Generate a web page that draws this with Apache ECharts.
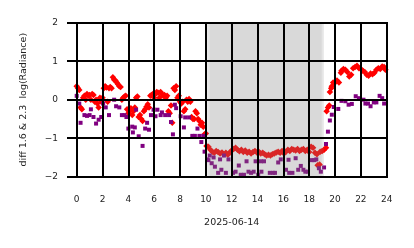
<!DOCTYPE html>
<html>
<head>
<meta charset="utf-8">
<script src="https://cdn.jsdelivr.net/npm/echarts@6/dist/echarts.min.js"></script>
<style>html,body{margin:0;padding:0;background:#fff;}#c{width:414px;height:248px;}</style>
</head>
<body>
<div id="c"></div>
<script>
// ---- data ----
const dateLabel = '2025-06-14';
const yTitle = 'diff 1.6 & 2.3  log(Radiance)';
const xTicks = [0, 2, 4, 6, 8, 10, 12, 14, 16, 18, 20, 22, 24];
const yTicks = [-2, -1, 0, 1, 2];
const shadeOuter = [10.1, 19.13];
const shadeInner = [10.3, 18.96];

const redT = [0.0,0.1,0.2,0.3,0.4,0.5,0.6,0.7,0.8,0.9,1.0,1.1,1.2,1.3,1.4,1.5,1.6,1.7,1.8,1.9,2.0,
  2.1,2.2,2.3,2.4,2.5,2.6,2.7,2.8,2.9,3.0,3.1,3.2,3.3,3.4,3.5,3.6,3.7,3.8,3.9,4.0,4.1,4.2,4.3,4.4,4.5,4.6,4.7,4.8,4.9,5.0,
  5.1,5.2,5.3,5.4,5.5,5.6,5.7,5.8,5.9,6.0,6.1,6.2,6.3,6.4,6.5,6.6,6.7,6.8,6.9,7.0,7.1,7.2,7.3,7.4,7.5,7.6,7.7,7.8,7.9,8.0,
  8.1,8.2,8.3,8.4,8.5,8.6,8.7,8.8,8.9,9.0,9.1,9.2,9.3,9.4,9.5,9.6,9.7,9.8,9.9,10.0,10.05,
  10.2,10.35,10.5,10.65,10.8,10.95,11.1,11.25,11.4,11.55,11.7,11.85,12.0,12.15,12.3,12.45,12.6,12.75,12.9,13.05,13.2,13.35,
  13.5,13.65,13.8,13.95,14.1,14.25,14.4,14.55,14.7,14.85,15.0,15.15,15.3,15.45,15.6,15.75,15.9,16.05,16.2,16.35,16.5,16.65,
  16.8,16.95,17.1,17.25,17.4,17.55,17.7,17.85,18.0,18.15,18.3,18.45,18.6,18.65,18.8,18.85,19.0,19.15,19.3,
  19.35,19.45,19.55,19.6,19.7,19.75,19.85,20.0,20.15,20.3,20.45,20.5,20.65,20.8,20.95,21.1,21.25,21.4,21.55,21.7,21.85,
  22.0,22.15,22.3,22.45,22.6,22.75,22.9,23.05,23.2,23.35,23.5,23.65,23.8,23.9];
const redV = [0.35,0.3,0.25,-0.2,-0.25,0.05,0.1,0.0,0.15,0.1,0.12,0.0,0.15,0.12,-0.05,0.0,-0.1,-0.2,0.05,-0.05,0.05,
  0.3,0.35,0.32,-0.05,0.3,0.33,0.3,0.58,0.52,0.5,0.45,0.4,0.35,0.33,0.0,0.05,0.08,0.1,-0.25,-0.35,-0.3,-0.22,-0.4,-0.3,-0.2,0.05,0.08,-0.45,-0.4,-0.5,
  -0.55,-0.3,-0.25,-0.18,-0.12,-0.2,0.1,0.12,0.15,0.05,0.15,0.2,0.18,0.05,0.2,0.15,0.1,0.12,0.05,0.1,-0.3,-0.35,-0.15,-0.6,0.3,0.25,0.35,0.05,0.1,-0.05,
  -0.1,-0.05,-0.3,-0.25,0.0,-0.05,0.02,-0.05,-0.45,-0.5,-0.5,-0.3,-0.35,-0.5,-0.55,-0.65,-0.6,-0.7,-0.9,-0.88,-1.2,
  -1.22,-1.3,-1.35,-1.38,-1.33,-1.36,-1.4,-1.37,-1.42,-1.38,-1.43,-1.37,-1.32,-1.28,-1.25,-1.3,-1.34,-1.3,-1.36,-1.32,-1.38,-1.35,
  -1.4,-1.36,-1.33,-1.37,-1.35,-1.4,-1.38,-1.42,-1.45,-1.43,-1.45,-1.42,-1.4,-1.37,-1.35,-1.38,-1.33,-1.4,-1.35,-1.3,-1.33,-1.28,
  -1.3,-1.32,-1.28,-1.33,-1.3,-1.28,-1.33,-1.3,-1.36,-1.22,-1.25,-1.38,-1.42,-1.7,-1.68,-1.35,-1.33,-1.3,-1.25,
  -0.3,-0.2,-0.15,0.2,0.3,0.35,0.45,0.45,0.5,0.45,0.7,0.75,0.8,0.78,0.72,0.6,0.65,0.82,0.85,0.88,0.82,
  0.8,0.75,0.72,0.65,0.62,0.68,0.66,0.7,0.78,0.82,0.8,0.86,0.85,0.78];

const purpleT = [0.0,0.2,0.3,0.6,0.8,1.0,1.1,1.3,1.5,1.7,1.9,2.05,2.25,2.5,2.9,3.05,3.3,3.5,3.7,3.85,4.0,4.3,4.35,4.5,4.6,4.8,
  5.1,5.3,5.45,5.6,5.75,5.95,6.1,6.25,6.5,6.6,6.85,7.15,7.3,7.45,7.6,7.7,8.05,8.3,8.4,8.7,8.95,9.15,9.35,9.5,9.65,9.8,9.9,
  10.1,10.2,10.3,10.45,10.6,10.7,10.95,11.1,11.2,11.4,11.55,11.75,12.1,12.3,12.55,12.7,12.95,13.15,13.3,13.5,13.7,13.85,
  14.05,14.25,14.3,14.5,14.95,15.2,15.35,15.6,15.8,16.2,16.4,16.45,16.7,16.95,17.15,17.35,17.55,17.7,17.9,18.2,18.4,18.55,
  18.75,18.9,19.15,19.3,19.45,19.6,19.75,19.9,20.25,20.5,20.8,21.05,21.3,21.6,21.85,22.2,22.35,22.55,22.75,23.0,23.2,23.45,23.65,23.8];
const purpleV = [0.1,-0.1,-0.6,-0.4,-0.42,-0.4,-0.25,-0.45,-0.62,-0.52,-0.45,-0.1,-0.2,-0.4,0.0,-0.17,-0.2,-0.4,-0.4,-0.45,-0.75,-0.7,-0.85,-0.72,-0.26,-0.95,
  -1.2,-0.75,-0.6,-0.78,-0.4,-0.26,-0.43,-0.26,-0.4,-0.33,-0.4,-0.4,-0.58,-0.9,-0.13,-0.22,-0.43,-0.72,-0.46,-0.46,-0.94,-0.94,-0.75,-0.94,-1.1,-0.94,-1.35,
  -1.55,-1.57,-1.45,-1.65,-1.5,-1.74,-1.9,-1.55,-1.82,-1.45,-1.9,-1.55,-1.9,-1.87,-1.71,-1.95,-1.95,-1.6,-1.87,-1.9,-1.87,-1.6,
  -1.95,-1.6,-1.87,-1.6,-1.9,-1.9,-1.9,-1.63,-1.55,-1.82,-1.56,-1.9,-1.9,-1.52,-1.82,-1.72,-1.82,-1.87,-1.87,-1.57,-1.57,-1.55,
  -1.78,-1.87,-1.76,-1.15,-0.83,-0.54,-0.39,-0.19,-0.24,-0.03,-0.04,-0.13,-0.11,0.09,0.04,0.0,-0.1,-0.1,-0.17,-0.07,-0.07,0.1,0.04,-0.1];

// ---- chart ----
const FONT = 'DejaVu Sans';
const xMinView = -0.75, xMaxView = 24.1;
const gLeft = 67, gRight = 26, gTop = 22.7, gBottom = 71.3;
const plotW = 414 - gLeft - gRight;
const pxPerH = plotW / (xMaxView - xMinView);
const left2 = gLeft + (xTicks[0] - xMinView) * pxPerH;
const right2 = 414 - (left2 + (xTicks[xTicks.length - 1] - xTicks[0]) * pxPerH);
const fmtMinus = v => String(v).replace('-', '\u2212');

const chart = echarts.init(document.getElementById('c'), null, {renderer: 'canvas'});
chart.setOption({
  animation: false,
  backgroundColor: '#fff',
  textStyle: {fontFamily: FONT},
  grid: [
    {left: gLeft, right: gRight, top: gTop, bottom: gBottom, containLabel: false},
    {left: left2, right: right2, top: gTop, bottom: gBottom, containLabel: false}
  ],
  xAxis: [
    {type: 'value', gridIndex: 0, min: xMinView, max: xMaxView,
     axisLine: {show: false}, axisTick: {show: false}, axisLabel: {show: false}, splitLine: {show: false}},
    {type: 'value', gridIndex: 1, min: xTicks[0], max: xTicks[xTicks.length - 1], interval: 2, z: 10,
     axisLine: {show: false},
     axisTick: {show: true, length: 7, lineStyle: {color: '#000', width: 2}},
     axisLabel: {fontSize: 9, color: '#222', margin: 18, fontFamily: FONT},
     splitLine: {show: true, lineStyle: {color: '#000', width: 2}},
     name: dateLabel, nameLocation: 'middle', nameGap: 41,
     nameTextStyle: {fontSize: 9.5, color: '#222', fontFamily: FONT}}
  ],
  yAxis: [
    {type: 'value', gridIndex: 0, min: yTicks[0], max: yTicks[yTicks.length - 1], interval: 1, z: 10,
     axisLine: {show: false}, axisTick: {show: false},
     axisLabel: {fontSize: 9, color: '#222', margin: 9, fontFamily: FONT, formatter: fmtMinus},
     splitLine: {show: true, lineStyle: {color: '#000', width: 2}},
     name: yTitle, nameLocation: 'middle', nameGap: 38, nameRotate: 90,
     nameTextStyle: {fontSize: 9.5, color: '#222', fontFamily: FONT}},
    {type: 'value', gridIndex: 1, min: -2, max: 2, show: false}
  ],
  series: [
    {type: 'scatter', xAxisIndex: 0, yAxisIndex: 0, z: 2, symbol: 'diamond', symbolSize: 6.5,
     itemStyle: {color: '#ff0000', opacity: 1}, clip: true,
     data: redT.map((t, i) => [t, redV[i]])},
    {type: 'scatter', xAxisIndex: 0, yAxisIndex: 0, z: 2, symbol: 'rect', symbolSize: 4,
     itemStyle: {color: '#800080', opacity: 1}, clip: true,
     data: purpleT.map((t, i) => [t, purpleV[i]])},
    {type: 'scatter', xAxisIndex: 0, yAxisIndex: 0, z: 5, data: [], silent: true,
     markArea: {silent: true, z: 5,
       data: [
         [{xAxis: shadeOuter[0], itemStyle: {color: 'rgba(128,128,128,0.2)'}}, {xAxis: shadeOuter[1]}],
         [{xAxis: shadeInner[0], itemStyle: {color: 'rgba(128,128,128,0.125)'}}, {xAxis: shadeInner[1]}]
       ]}}
  ]
});
</script>
</body>
</html>
